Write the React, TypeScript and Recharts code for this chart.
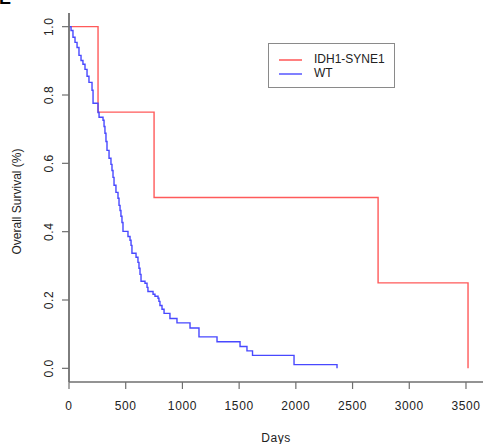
import React from 'react';
import { LineChart, Line, XAxis, YAxis, Legend } from 'recharts';

// Kaplan-Meier steps: [day, survival]
const synePoints: [number, number][] = [
  [0, 1.0], [256, 0.75], [750, 0.5], [2725, 0.25], [3518, 0.0],
];

const wtPoints: [number, number][] = [
  [0, 1.0], [18, 0.989], [35, 0.969], [53, 0.954], [71, 0.939], [88, 0.916],
  [106, 0.901], [123, 0.89], [141, 0.875], [159, 0.855], [176, 0.837],
  [203, 0.814], [212, 0.776], [256, 0.749], [265, 0.735], [300, 0.726],
  [309, 0.708], [317, 0.688], [326, 0.664], [335, 0.638], [353, 0.615],
  [370, 0.597], [379, 0.579], [388, 0.559], [397, 0.536], [414, 0.515],
  [432, 0.498], [441, 0.477], [450, 0.462], [458, 0.445], [467, 0.427],
  [476, 0.401], [520, 0.386], [538, 0.375], [547, 0.36], [555, 0.337],
  [591, 0.325], [608, 0.31], [617, 0.293], [626, 0.275], [635, 0.255],
  [670, 0.249], [688, 0.237], [696, 0.225], [741, 0.217], [758, 0.211],
  [785, 0.205], [793, 0.196], [802, 0.184], [820, 0.173], [838, 0.161],
  [890, 0.146], [952, 0.133], [1067, 0.118], [1146, 0.092], [1305, 0.078],
  [1508, 0.064], [1569, 0.051], [1618, 0.038], [1984, 0.011], [2363, 0.0],
];

const xTicks = [0, 500, 1000, 1500, 2000, 2500, 3000, 3500];
const yTicks = [0, 0.2, 0.4, 0.6, 0.8, 1.0];

const seriesNames = ['IDH1-SYNE1', 'WT'];

const toRows = (pts: [number, number][]) => pts.map(([day, surv]) => ({ day, surv }));

const FONT = '"Liberation Sans", Arial, Helvetica, sans-serif';
const AXIS_COLOR = '#6f6f6f';

const XTick = ({ x, y, payload }: any) => (
  <text x={x} y={y} dy={19} textAnchor="middle" fontSize={12} fontFamily={FONT} fill="#222" letterSpacing={0.6}>
    {payload.value}
  </text>
);

const YTick = ({ y, payload }: any) => (
  <text
    x={53}
    y={y}
    textAnchor="middle"
    transform={`rotate(-90, 53, ${y})`}
    fontSize={12}
    fontFamily={FONT}
    fill="#222"
    letterSpacing={0.6}
  >
    {payload.value.toFixed(1)}
  </text>
);

const LegendBox = () => (
  <div
    style={{
      width: 127,
      height: 45,
      border: '1px solid #8a8a8a',
      boxSizing: 'border-box',
      background: '#fff',
      position: 'relative',
      fontFamily: FONT,
      fontSize: 12,
      color: '#222',
    }}
  >
    <div style={{ position: 'absolute', left: 10, top: 15, width: 23, height: 1.5, background: '#ff8080' }} />
    <div style={{ position: 'absolute', left: 10, top: 29, width: 23, height: 1.5, background: '#8080ff' }} />
    <div style={{ position: 'absolute', left: 45, top: 8, lineHeight: '14px' }}>{seriesNames[0]}</div>
    <div style={{ position: 'absolute', left: 45, top: 22, lineHeight: '14px' }}>{seriesNames[1]}</div>
  </div>
);

export default function App() {
  return (
    <div style={{ position: 'absolute', left: 0, top: 0, width: 483, height: 444, background: '#fff' }}>
      <LineChart width={483} height={444} margin={{ top: 13, right: 0, bottom: 0, left: 0 }}>
        <text x={-1} y={4} fontSize={18} fontWeight="bold" fontFamily={FONT} fill="#000">E</text>
        <XAxis
          dataKey="day"
          type="number"
          domain={[0, 3650]}
          allowDataOverflow
          ticks={xTicks}
          tick={<XTick />}
          tickSize={7}
          height={62}
          stroke={AXIS_COLOR}
          axisLine={{ stroke: AXIS_COLOR, strokeWidth: 1.5 }}
          tickLine={{ stroke: AXIS_COLOR, strokeWidth: 1.2 }}
          label={{ value: 'Days', position: 'insideBottom', offset: 2, fontSize: 12, fontFamily: FONT, fill: '#222', letterSpacing: 0.6 }}
        />
        <XAxis
          xAxisId="top"
          dataKey="day"
          type="number"
          orientation="top"
          domain={[0, 3650]}
          height={0}
          tick={false}
          tickLine={false}
          axisLine={{ stroke: '#8a8a8a', strokeWidth: 1.5 }}
        />
        <YAxis
          type="number"
          domain={[-0.04, 1.04]}
          allowDataOverflow
          ticks={yTicks}
          tick={<YTick />}
          tickSize={7}
          width={69}
          axisLine={{ stroke: AXIS_COLOR, strokeWidth: 1.8 }}
          tickLine={{ stroke: AXIS_COLOR, strokeWidth: 1.2 }}
          label={{
            value: 'Overall Survival (%)',
            angle: -90,
            position: 'insideLeft',
            offset: 17,
            dx: 0,
            dy: 4,
            fontSize: 12,
            fontFamily: FONT,
            fill: '#222',
            style: { textAnchor: 'middle' },
          }}
        />
        <Legend
          layout="vertical"
          align="center"
          verticalAlign="middle"
          content={<LegendBox />}
          wrapperStyle={{ left: 268, top: 43, width: 127, height: 45 }}
        />
        <Line
          data={toRows(synePoints)}
          dataKey="surv"
          name={seriesNames[0]}
          type="stepAfter"
          stroke="#ff5a5a"
          strokeWidth={1.4}
          dot={false}
          isAnimationActive={false}
        />
        <Line
          data={toRows(wtPoints)}
          dataKey="surv"
          name={seriesNames[1]}
          type="stepAfter"
          stroke="#4848ff"
          strokeWidth={1.4}
          dot={false}
          isAnimationActive={false}
        />
      </LineChart>
    </div>
  );
}
